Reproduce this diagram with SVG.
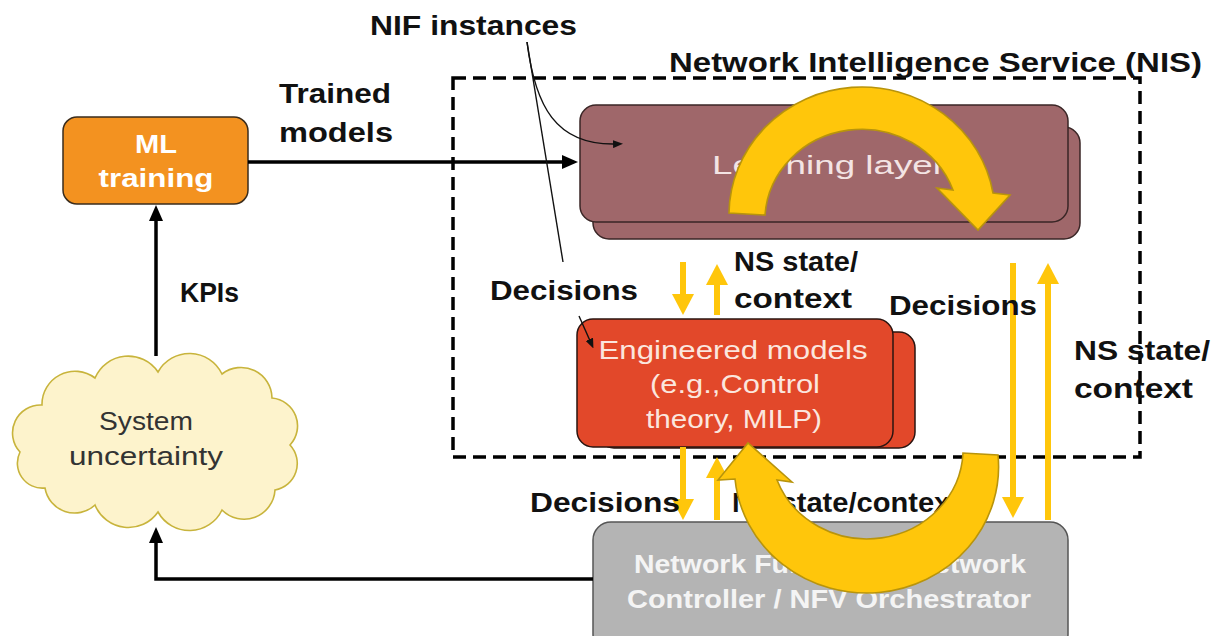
<svg xmlns="http://www.w3.org/2000/svg" width="1217" height="636" viewBox="0 0 1217 636">
  <style>
    .lbl { font-family: "Liberation Sans", Arial, sans-serif; font-weight: bold; font-size: 28px; fill: #111; }
    .box-txt { font-family: "Liberation Sans", Arial, sans-serif; font-size: 26px; }
    .wire { fill: none; stroke: #000; stroke-width: 3.5; }
    .thin { fill: none; stroke: #111; stroke-width: 1.4; }
    .yel { stroke: #FFC60B; stroke-width: 6; fill: none; }
    .bend { fill: #FFC60B; stroke: #B8940C; stroke-width: 1.6; stroke-linejoin: miter; }
  </style>
  <defs>
    <marker id="ah" markerUnits="userSpaceOnUse" markerWidth="16" markerHeight="14" viewBox="0 0 16 14" refX="6" refY="7" orient="auto">
      <path d="M0,0 L16,7 L0,14 Z" fill="#000"/>
    </marker>
    <marker id="ah-thin" markerUnits="userSpaceOnUse" markerWidth="10" markerHeight="8" viewBox="0 0 10 8" refX="4" refY="4" orient="auto">
      <path d="M0,0 L10,4 L0,8 Z" fill="#111"/>
    </marker>
    <marker id="ah-yel" markerUnits="userSpaceOnUse" markerWidth="22" markerHeight="22" viewBox="0 0 22 22" refX="3" refY="11" orient="auto">
      <path d="M0,0 L21,11 L0,22 Z" fill="#FFC60B"/>
    </marker>
  </defs>

  <rect width="1217" height="636" fill="#fff"/>

  <!-- NIS boundary -->
  <g id="nis">
    <rect x="453" y="78" width="687" height="379" fill="none" stroke="#000" stroke-width="3.5" stroke-dasharray="13 7"/>
    <text class="lbl" x="669" y="72" font-size="29" textLength="533" lengthAdjust="spacingAndGlyphs">Network Intelligence Service (NIS)</text>
  </g>

  <!-- ML training -->
  <g id="ml-training">
    <rect x="63" y="117" width="185" height="87" rx="14" fill="#F39220" stroke="#3a2c1c" stroke-width="1.5"/>
    <text class="box-txt" x="156" y="153" text-anchor="middle" font-weight="bold" font-size="28" fill="#fff" textLength="42" lengthAdjust="spacingAndGlyphs">ML</text>
    <text class="box-txt" x="156" y="187" text-anchor="middle" font-weight="bold" font-size="28" fill="#fff" textLength="115" lengthAdjust="spacingAndGlyphs">training</text>
  </g>

  <!-- Learning layer (stacked instances) -->
  <g id="learning-layer">
    <rect x="593" y="127" width="487" height="112" rx="16" fill="#9F676A" stroke="#3a2626" stroke-width="1.5"/>
    <rect x="580" y="105" width="488" height="117" rx="16" fill="#9F676A" stroke="#3a2626" stroke-width="1.5"/>
    <text class="box-txt" x="712" y="174" font-size="27" fill="#F3E4E4" textLength="233" lengthAdjust="spacingAndGlyphs">Learning layer</text>
  </g>

  <!-- Engineered models (stacked instances) -->
  <g id="engineered-models">
    <rect x="598" y="332" width="317" height="116" rx="16" fill="#E2482A" stroke="#2a1410" stroke-width="1.5"/>
    <rect x="577" y="319" width="316" height="128" rx="16" fill="#E2482A" stroke="#2a1410" stroke-width="1.5"/>
    <text class="box-txt" x="733" y="359" text-anchor="middle" fill="#FBE6DE" textLength="269" lengthAdjust="spacingAndGlyphs">Engineered models</text>
    <text class="box-txt" x="735" y="393" text-anchor="middle" fill="#FBE6DE" textLength="170" lengthAdjust="spacingAndGlyphs">(e.g.,Control</text>
    <text class="box-txt" x="734" y="428" text-anchor="middle" fill="#FBE6DE" textLength="176" lengthAdjust="spacingAndGlyphs">theory, MILP)</text>
  </g>

  <!-- Network functions / controller / orchestrator -->
  <g id="network-functions">
    <rect x="593" y="522" width="475" height="130" rx="18" fill="#B4B4B4" stroke="#555" stroke-width="1.5"/>
    <text class="box-txt" x="830" y="573" text-anchor="middle" font-weight="bold" font-size="27" fill="#F4F4F4" textLength="392" lengthAdjust="spacingAndGlyphs">Network Functions / Network</text>
    <text class="box-txt" x="829" y="608" text-anchor="middle" font-weight="bold" font-size="27" fill="#F4F4F4" textLength="404" lengthAdjust="spacingAndGlyphs">Controller / NFV Orchestrator</text>
  </g>

  <!-- System uncertainty cloud -->
  <g id="system-uncertainty">
    <path d="M20,452 A28,28 0 0 1 42,405 A33,33 0 0 1 95,378 A36,36 0 0 1 158,372 A36,36 0 0 1 222,374 A31,31 0 0 1 272,398 A28,28 0 0 1 290,445 A27,27 0 0 1 275,490 A31,31 0 0 1 222,510 A36,36 0 0 1 158,512 A36,36 0 0 1 95,505 A30,30 0 0 1 45,488 A25,25 0 0 1 20,452 Z" fill="#FDF3CC" stroke="#C8B43C" stroke-width="1.6"/>
    <text class="box-txt" x="146" y="430" text-anchor="middle" fill="#333" textLength="94" lengthAdjust="spacingAndGlyphs">System</text>
    <text class="box-txt" x="146" y="465" text-anchor="middle" fill="#333" textLength="154" lengthAdjust="spacingAndGlyphs">uncertainty</text>
  </g>

  <!-- Connectors -->
  <g id="connectors">
    <line class="wire" x1="248" y1="162" x2="568" y2="162" marker-end="url(#ah)"/>
    <line class="wire" x1="156" y1="356" x2="156" y2="215" marker-end="url(#ah)"/>
    <polyline class="wire" points="593,579 156,579 156,537" marker-end="url(#ah)"/>

    <!-- NIF instance pointers -->
    <path class="thin" d="M527,42 C535,105 555,146 617,144" marker-end="url(#ah-thin)"/>
    <line class="thin" x1="527" y1="42" x2="563" y2="262"/>
    <line class="thin" x1="579" y1="316" x2="591" y2="343" marker-end="url(#ah-thin)"/>

    <!-- decisions / state exchanges -->
    <line class="yel" x1="683" y1="262" x2="683" y2="297" marker-end="url(#ah-yel)"/>
    <line class="yel" x1="717" y1="315" x2="717" y2="282" marker-end="url(#ah-yel)"/>
    <line class="yel" x1="1013" y1="263" x2="1013" y2="500" marker-end="url(#ah-yel)"/>
    <line class="yel" x1="1048" y1="520" x2="1048" y2="281" marker-end="url(#ah-yel)"/>
    <line class="yel" x1="683" y1="447" x2="683" y2="502" marker-end="url(#ah-yel)"/>
    <line class="yel" x1="717" y1="520" x2="717" y2="475" marker-end="url(#ah-yel)"/>
  </g>

  <!-- Labels -->
  <g id="labels">
    <text class="lbl" x="370" y="35" font-size="29" textLength="207" lengthAdjust="spacingAndGlyphs">NIF instances</text>
    <text class="lbl" x="279" y="103" textLength="112" lengthAdjust="spacingAndGlyphs">Trained</text>
    <text class="lbl" x="279" y="142" textLength="114" lengthAdjust="spacingAndGlyphs">models</text>
    <text class="lbl" x="180" y="302" textLength="59" lengthAdjust="spacingAndGlyphs">KPIs</text>
    <text class="lbl" x="490" y="300" textLength="148" lengthAdjust="spacingAndGlyphs">Decisions</text>
    <text class="lbl" x="734" y="271" textLength="124" lengthAdjust="spacingAndGlyphs">NS state/</text>
    <text class="lbl" x="734" y="308" textLength="118" lengthAdjust="spacingAndGlyphs">context</text>
    <text class="lbl" x="889" y="315" textLength="148" lengthAdjust="spacingAndGlyphs">Decisions</text>
    <text class="lbl" x="1074" y="360" textLength="136" lengthAdjust="spacingAndGlyphs">NS state/</text>
    <text class="lbl" x="1074" y="398" textLength="119" lengthAdjust="spacingAndGlyphs">context</text>
    <text class="lbl" x="530" y="512" textLength="150" lengthAdjust="spacingAndGlyphs">Decisions</text>
    <text class="lbl" x="732" y="512" textLength="228" lengthAdjust="spacingAndGlyphs">NS state/context</text>
  </g>

  <!-- Control-loop bends -->
  <g id="loop-arrows">
    <path class="bend" d="M729,213 A133,128 0 0 1 993,193 L1010,195 L978,230 L937,188 L953,190 A97,92 0 0 0 765,215 Z"/>
    <path class="bend" d="M998,455 A132,126 0 0 1 735,479 L718,480 L748,443 L792,482 L777,480 A96,90 0 0 0 963,453 Z"/>
  </g>
</svg>
